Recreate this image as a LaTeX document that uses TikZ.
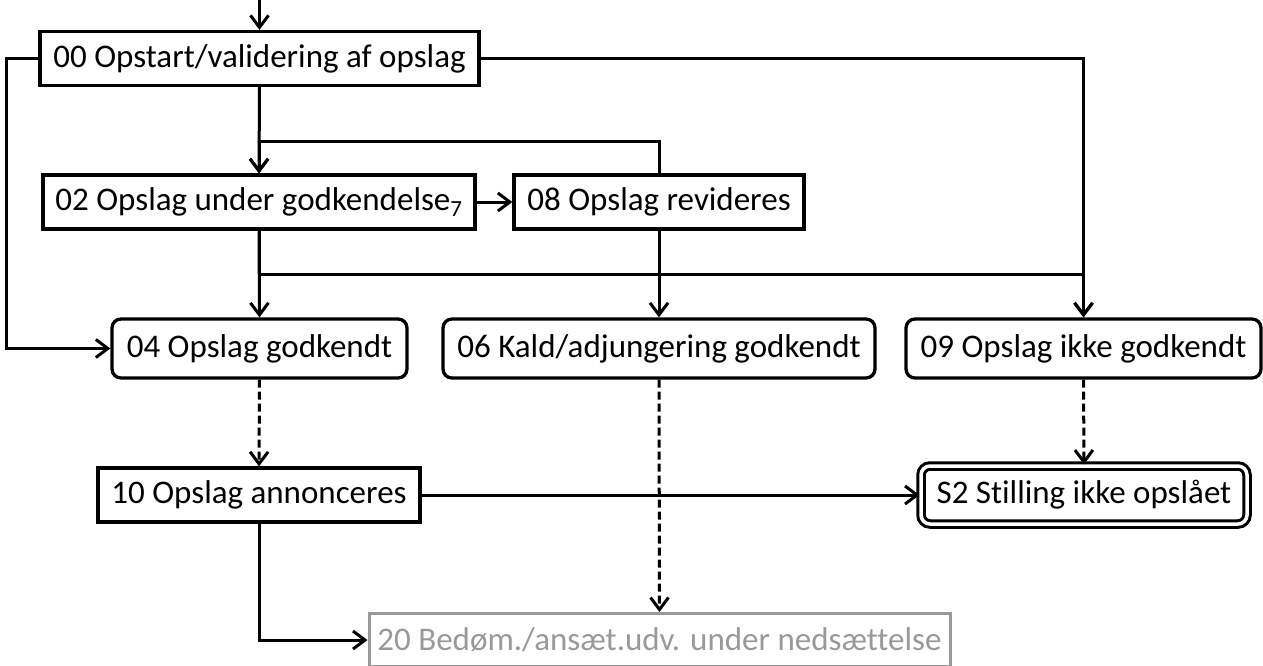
\documentclass[tikz,border=0pt]{standalone}
\usepackage{fontspec}
\setmainfont[Ligatures=NoCommon]{Carlito}
\usepackage{xcolor}
\usetikzlibrary{arrows.meta,calc}
\definecolor{offgray}{HTML}{999999}

\begin{document}
\begin{tikzpicture}[x=1pt,y=-1pt,
  font=\fontsize{33pt}{40pt}\selectfont,
  state/.style={draw,line width=3.3pt,inner sep=0pt,minimum height=54pt},
  okstate/.style={state,rounded corners=9pt,minimum height=59pt},
  endstate/.style={state,rounded corners=9pt,double,double distance=3.5pt,line width=3pt,minimum height=58pt},
  offstate/.style={state,draw=offgray,text=offgray,line width=3pt,minimum height=53pt},
  flow/.style={line width=3pt,-{Straight Barb[length=12pt,width=18pt,line width=3pt]}},
  auto flow/.style={flow,dash pattern=on 8pt off 4pt}]
\useasboundingbox (0,0) rectangle (1263,666);

\node [state,minimum width=439pt] (n00) at (259.5,58.5) {00 Opstart/validering af opslag};
\node [state,minimum width=432pt] (n02) at (259,202) {02 Opslag under godkendelse\textsubscript{7}};
\node [state,minimum width=290pt] (n08) at (659,202) {08 Opslag revideres};
\node [okstate,minimum width=295pt] (n04) at (259.5,348.5) {04 Opslag godkendt};
\node [okstate,minimum width=432pt] (n06) at (659,348.5) {06 Kald/adjungering godkendt};
\node [okstate,minimum width=355pt] (n09) at (1083.5,348.5) {09 Opslag ikke godkendt};
\node [state,minimum width=322pt] (n10) at (259,495) {10 Opslag annonceres};
\node [endstate,minimum width=326pt] (s2) at (1084,495) {S2 Stilling ikke opslået};
\node [offstate,minimum width=581pt] (n20) at (659.5,640) {20 Bedøm./ansæt.udv. under nedsættelse};

\coordinate (start) at (259.5,0);
\draw [flow] (start) -- (n00.north);
\draw [flow] (n00.south) -- (n02.north);
\draw [flow] (n00.west) -- ++(-32,0) |- (n04.west);
\draw [flow] (n00.east) -| (n09.north);
\draw [flow] (n08.north) -- ++(0,-32) -| (n02.north);
\draw [flow] (n02.east) -- (n08.west);
\draw [flow] (n02.south) -- (n04.north);
\draw [flow] (n02.south) -- ++(0,44) -| (n09.north);
\draw [flow] (n08.south) -- (n06.north);
\draw [auto flow] (n04.south) -- (n10.north);
\draw [auto flow] (n06.south) -- (n20.north);
\draw [auto flow] (n09.south) -- (s2.north);
\draw [flow] (n10.east) -- (s2.west);
\draw [flow] (n10.south) |- (n20.west);
\end{tikzpicture}
\end{document}
